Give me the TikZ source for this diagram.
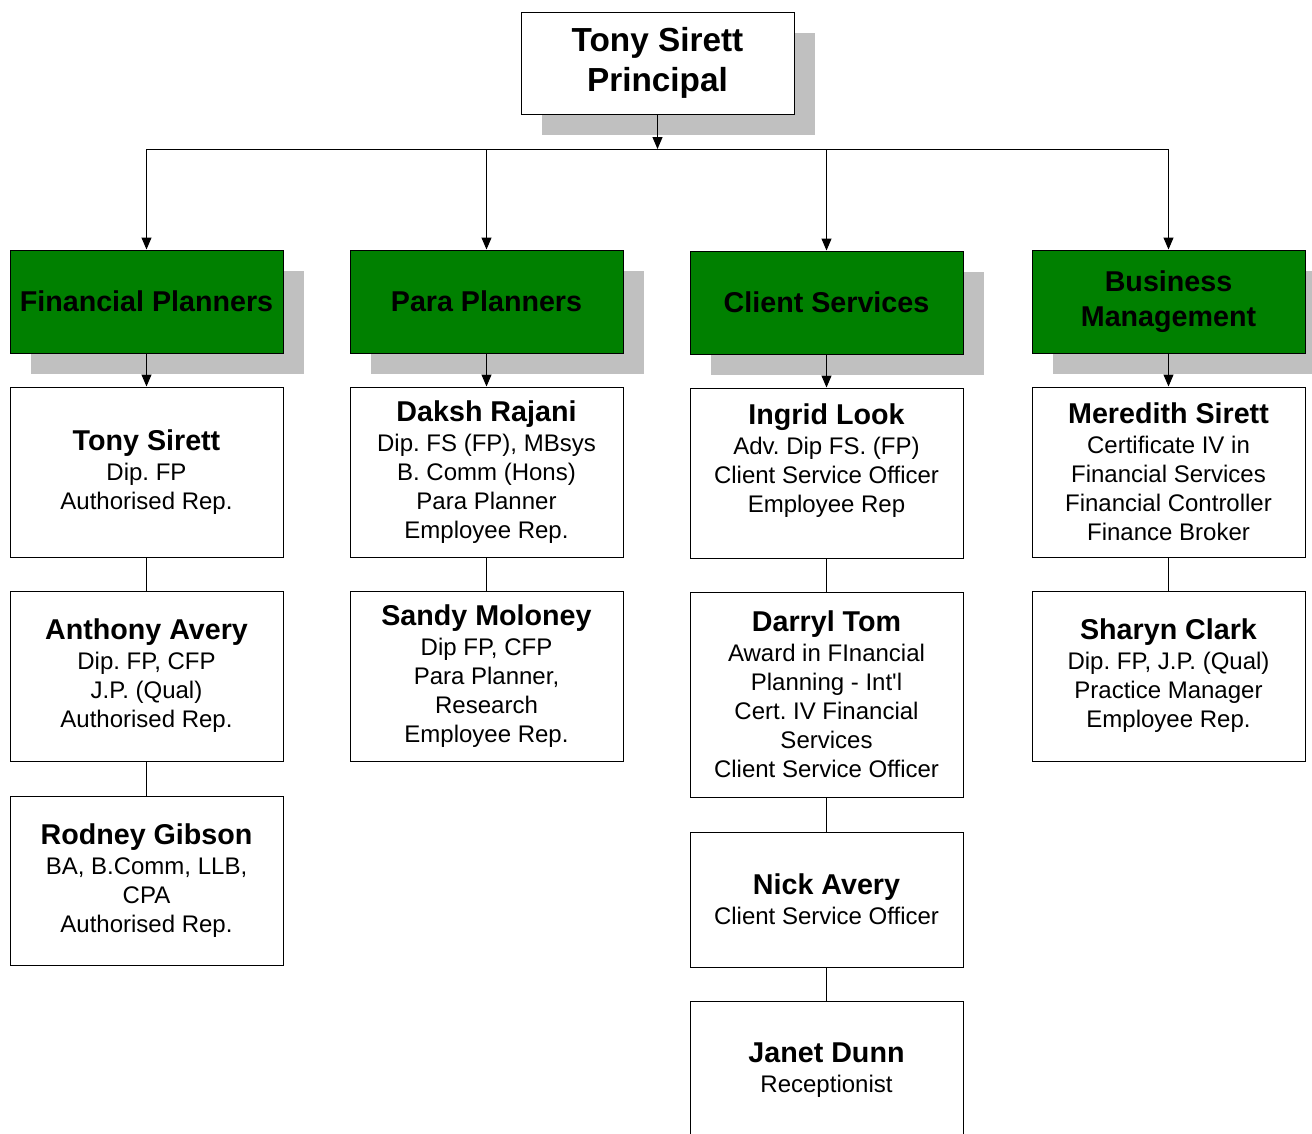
\documentclass[tikz,border=0pt]{standalone}
\usepackage{fontspec}
\setmainfont{Liberation Sans}
\usetikzlibrary{arrows.meta,shadows}
\frenchspacing

\definecolor{deptgreen}{RGB}{0,128,0}
\definecolor{shadowgray}{RGB}{192,192,192}

% name line of a person box
\newcommand{\pname}[1]{{\fontsize{21.5pt}{24pt}\selectfont\bfseries #1}\\[0.75pt]}

\tikzset{
  boxshadow/.style={general shadow={fill=shadowgray, shadow xshift=15.75pt, shadow yshift=-15.75pt}},
  boss/.style={draw, line width=0.75pt, fill=white, minimum width=204.75pt, minimum height=76.5pt,
    align=center, inner sep=2pt, font=\fontsize{25pt}{30pt}\selectfont\bfseries, boxshadow},
  dept/.style={draw, line width=0.75pt, fill=deptgreen, minimum width=204.75pt, minimum height=77.25pt,
    align=center, inner sep=2pt, font=\fontsize{21.5pt}{26pt}\selectfont\bfseries, boxshadow},
  person/.style={draw, line width=0.75pt, fill=white, minimum width=204.75pt, minimum height=127.5pt,
    align=center, inner sep=2pt, font=\fontsize{18pt}{21.75pt}\selectfont},
  link/.style={line width=0.75pt},
  arrowline/.style={-{Triangle[length=9pt,width=7.5pt]}}
}

\begin{document}
\begin{tikzpicture}[x=0.75pt, y=-0.75pt]
\useasboundingbox (0,0) rectangle (1312,1133);
\clip (0,0) rectangle (1312,1133);

% principal
\node[boss] (boss) at (657.5,63) {Tony Sirett\\Principal};
\coordinate (bus) at (657.5,149);

% departments
\node[dept] (fp) at (146.5,301.5) {Financial Planners};
\node[dept] (pp) at (486.5,301.5) {Para Planners};
\node[dept] (cs) at (826.5,302.5) {Client Services};
\node[dept] (bm) at (1168.5,301.5) {Business\\Management};

% staff
\node[person] (ts) at (146.5,472) {\pname{Tony Sirett}Dip. FP\\Authorised Rep.};
\node[person] (aa) at (146.5,676) {\pname{Anthony Avery}Dip. FP, CFP\\J.P. (Qual)\\Authorised Rep.};
\node[person, minimum height=126.75pt] (rg) at (146.5,880.5) {\pname{Rodney Gibson}BA, B.Comm, LLB,\\CPA\\Authorised Rep.};

\node[person] (dr) at (486.5,472) {\pname{Daksh Rajani}Dip. FS (FP), MBsys\\B. Comm (Hons)\\Para Planner\\Employee Rep.};
\node[person] (sm) at (486.5,676) {\pname{Sandy Moloney}Dip FP, CFP\\Para Planner,\\Research\\Employee Rep.};

\node[person] (il) at (826.5,473) {\pname{Ingrid Look}Adv. Dip FS. (FP)\\Client Service Officer\\Employee Rep\\\mbox{}};
\node[person, minimum height=153.75pt] (dt) at (826.5,694.5) {\pname{Darryl Tom}Award in FInancial\\Planning - Int\textquotesingle l\\Cert. IV Financial\\Services\\Client Service Officer};
\node[person, minimum height=101.25pt] (na) at (826.5,899.5) {\pname{Nick Avery}Client Service Officer};
\node[person, minimum height=103.5pt] (jd) at (826.5,1070) {\pname{Janet Dunn}Receptionist};

\node[person] (ms) at (1168.5,472) {\pname{Meredith Sirett}Certificate IV in\\Financial Services\\Financial Controller\\Finance Broker};
\node[person] (sc) at (1168.5,676) {\pname{Sharyn Clark}Dip. FP, J.P. (Qual)\\Practice Manager\\Employee Rep.};

% connectors
\draw[link, arrowline] (boss.south) -- (bus);
\draw[link] (fp |- bus) -- (bm |- bus);
\foreach \d in {fp,pp,cs,bm}
  \draw[link, arrowline] (\d |- bus) -- (\d.north);

\draw[link, arrowline] (fp.south) -- (ts.north);
\draw[link, arrowline] (pp.south) -- (dr.north);
\draw[link, arrowline] (cs.south) -- (il.north);
\draw[link, arrowline] (bm.south) -- (ms.north);

\draw[link] (ts.south) -- (aa.north);
\draw[link] (aa.south) -- (rg.north);
\draw[link] (dr.south) -- (sm.north);
\draw[link] (il.south) -- (dt.north);
\draw[link] (dt.south) -- (na.north);
\draw[link] (na.south) -- (jd.north);
\draw[link] (ms.south) -- (sc.north);
\end{tikzpicture}
\end{document}
